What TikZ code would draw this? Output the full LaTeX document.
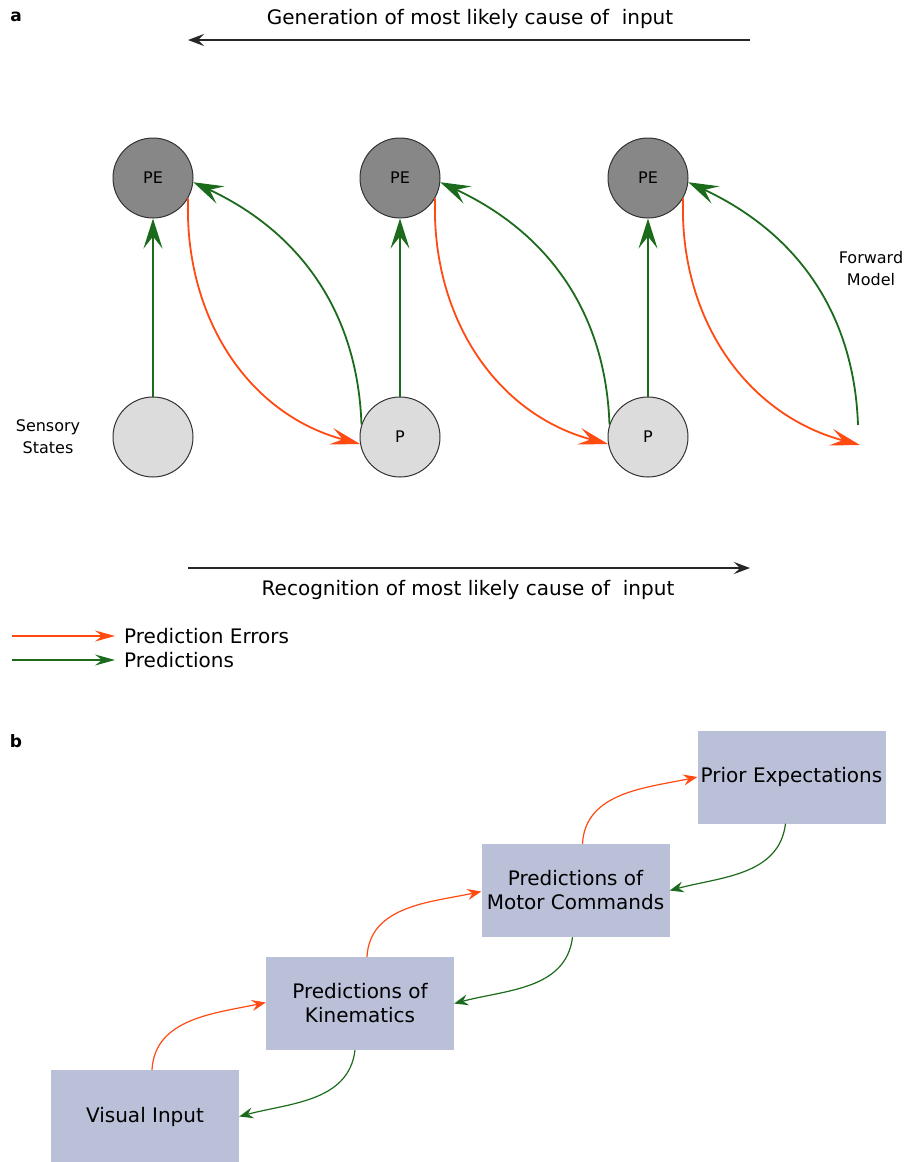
\documentclass[tikz,border=0pt]{standalone}
\usepackage{fontspec}
\setmainfont{DejaVu Sans}
\usetikzlibrary{arrows.meta}
\definecolor{errorange}{HTML}{FF4A12}
\definecolor{predgreen}{HTML}{1C6B1C}
\definecolor{pedark}{HTML}{878787}
\definecolor{plight}{HTML}{DCDCDC}
\definecolor{boxblue}{HTML}{B9C0D8}
\begin{document}
\begin{tikzpicture}[x=1pt,y=1pt,
  pecirc/.style={circle,draw=black!80,line width=1pt,fill=pedark,minimum size=80pt,inner sep=0pt,font=\fontsize{16}{18}\selectfont},
  pcirc/.style={pecirc,fill=plight},
  garr/.style={draw=predgreen,line width=1.8pt,-{Stealth[length=30pt,width=19pt,inset=12pt]}},
  oarr/.style={draw=errorange,line width=1.8pt,-{Stealth[length=30pt,width=17pt,inset=12pt]}},
  blkarr/.style={draw=black!85,line width=1.3pt,-{Stealth[length=16pt,width=12pt,inset=6pt]}},
  lego/.style={draw=errorange,line width=1.3pt,-{Stealth[length=20pt,width=11pt,inset=7pt]}},
  legg/.style={draw=predgreen,line width=1.3pt,-{Stealth[length=20pt,width=11pt,inset=7pt]}},
  bigtxt/.style={font=\fontsize{20}{24}\selectfont,inner sep=0pt},
  midtxt/.style={font=\fontsize{16}{22}\selectfont,inner sep=0pt,align=center},
  panel/.style={font=\bfseries\fontsize{17}{20}\selectfont,inner sep=0pt},
  bbox/.style={fill=boxblue,minimum width=188pt,minimum height=93pt,inner sep=0pt,align=center,font=\fontsize{20}{24}\selectfont},
  obarr/.style={draw=errorange,line width=1.2pt,-{Stealth[length=14pt,width=11pt,inset=5pt]}},
  gbarr/.style={draw=predgreen,line width=1.2pt,-{Stealth[length=14pt,width=11pt,inset=5pt]}}
]
\useasboundingbox (0,0) rectangle (922,-1162);

% panel labels
\node[panel] (la) at (16,-17) {a};
\node[panel] (lb) at (16,-741) {b};

% top arrow
\node[bigtxt] (gentxt) at (470,-19) {Generation of most likely cause of~ input};
\coordinate (gs) at (750,-40);
\coordinate (ge) at (188,-40);
\draw[blkarr] (gs) -- (ge);

% circles
\node[pecirc] (pe1) at (153,-178) {PE};
\node[pecirc] (pe2) at (400,-178) {PE};
\node[pecirc] (pe3) at (648,-178) {PE};
\node[pcirc] (s0) at (153,-437) {};
\node[pcirc] (p2) at (400,-437) {P};
\node[pcirc] (p3) at (648,-437) {P};

\node[midtxt] (sens) at (48,-437) {Sensory\\States};
\node[midtxt] (fwd) at (871,-269) {Forward\\Model};

% vertical predictions
\draw[garr] (s0) -- (pe1);
\draw[garr] (p2) -- (pe2);
\draw[garr] (p3) -- (pe3);

% curved arrows
\draw[garr] (p2.162) to[out=92,in=-25] (pe1.-6);
\draw[oarr] (pe1.-30) to[out=-92,in=165] (p2.190);
\draw[garr] (p3.162) to[out=92,in=-25] (pe2.-6);
\draw[oarr] (pe2.-30) to[out=-92,in=165] (p3.190);
\coordinate (fs) at (858,-425);
\coordinate (fe) at (860,-445);
\draw[garr] (fs) to[out=92,in=-25] (pe3.-6);
\draw[oarr] (pe3.-30) to[out=-92,in=165] (fe);

% bottom arrow
\coordinate (rs) at (188,-568);
\coordinate (re) at (750,-568);
\draw[blkarr] (rs) -- (re);
\node[bigtxt] (rectxt) at (468,-590) {Recognition of most likely cause of~ input};

% legend
\coordinate (lo1) at (12,-636);
\coordinate (lo2) at (115,-636);
\coordinate (lg1) at (12,-660);
\coordinate (lg2) at (115,-660);
\draw[lego] (lo1) -- (lo2);
\draw[legg] (lg1) -- (lg2);
\node[bigtxt,anchor=west] (lerr) at (124,-636) {Prediction Errors};
\node[bigtxt,anchor=west] (lpred) at (124,-660) {Predictions};

% panel b
\node[bbox] (prior) at (791.5,-777) {Prior Expectations};
\node[bbox] (mot) at (575.5,-890.5) {Predictions of\\Motor Commands};
\node[bbox] (kin) at (360,-1003.5) {Predictions of\\Kinematics};
\node[bbox] (vis) at (145,-1116.5) {Visual Input};

\draw[obarr] ([xshift=7pt]vis.north) to[out=87,in=192] ([yshift=1pt]kin.west);
\draw[gbarr] ([xshift=-5pt]kin.south) to[out=-97,in=15] (vis.east);
\draw[obarr] ([xshift=7pt]kin.north) to[out=87,in=192] ([yshift=-1pt]mot.west);
\draw[gbarr] ([xshift=-3pt]mot.south) to[out=-97,in=15] (kin.east);
\draw[obarr] ([xshift=7pt]mot.north) to[out=87,in=192] (prior.west);
\draw[gbarr] ([xshift=-6pt]prior.south) to[out=-97,in=15] (mot.east);
\end{tikzpicture}
\end{document}
